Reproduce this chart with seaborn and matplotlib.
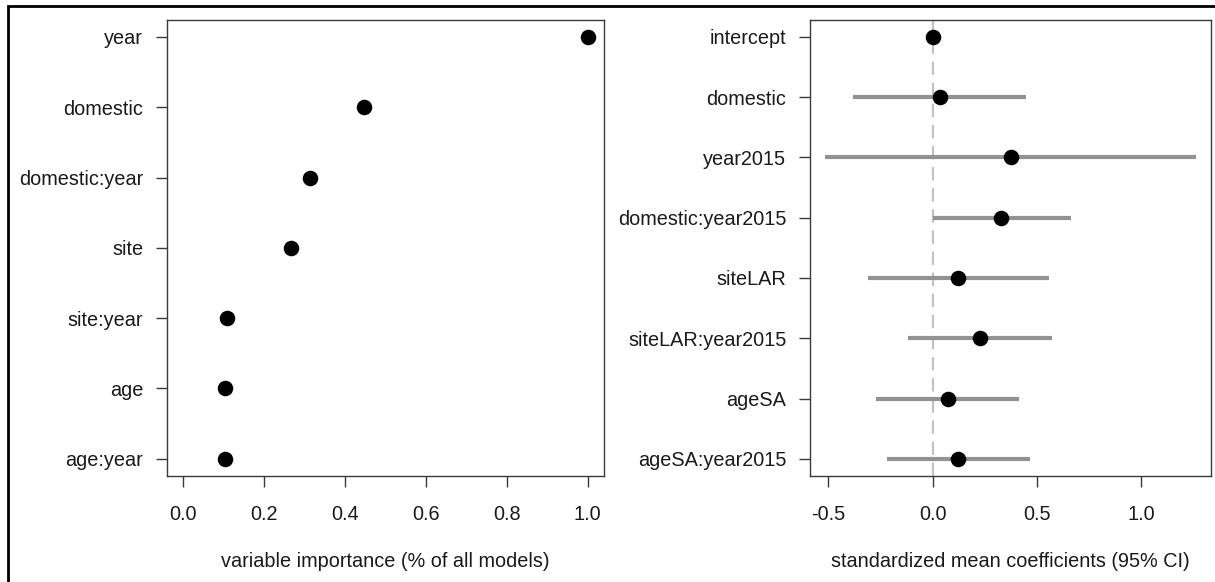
import numpy as np
import pandas as pd
import matplotlib.pyplot as plt
import seaborn as sns
from matplotlib.patches import Rectangle

# variable importance (left panel)
imp_vars = ["year", "domestic", "domestic:year", "site", "site:year", "age", "age:year"]
imp_vals = [1.0, 0.447, 0.315, 0.266, 0.110, 0.105, 0.104]

# standardized coefficients (right panel)
coef_vars = ["intercept", "domestic", "year2015", "domestic:year2015",
             "siteLAR", "siteLAR:year2015", "ageSA", "ageSA:year2015"]
coef_mean = [0.0, 0.035, 0.375, 0.328, 0.123, 0.226, 0.073, 0.124]
coef_low = [0.0, -0.381, -0.517, 0.002, -0.308, -0.118, -0.273, -0.217]
coef_high = [0.0, 0.448, 1.266, 0.662, 0.560, 0.571, 0.413, 0.466]

sns.set_style("ticks")
plt.rcParams['font.family'] = ['Liberation Sans', 'DejaVu Sans']
plt.rcParams['font.size'] = 14.3

spine_col = "#3a3a3a"
text_col = "#1a1a1a"

fig = plt.figure(figsize=(12.15, 5.82), dpi=100)
ax1 = fig.add_axes([166.7 / 1215, 1 - 475.7 / 582, 437.3 / 1215, 455.7 / 582])
ax2 = fig.add_axes([810 / 1215, 1 - 475.7 / 582, 401 / 1215, 455.7 / 582])

# left panel
df1 = pd.DataFrame({"var": imp_vars, "val": imp_vals})
df1["pos"] = np.arange(len(df1), 0, -1)
sns.scatterplot(data=df1, x="val", y="pos", color="black", s=125, linewidth=0, ax=ax1, zorder=3)
ax1.set_xlim(-0.04, 1.04)
ax1.set_ylim(0.76, 7.24)
ax1.set_xticks([0.0, 0.2, 0.4, 0.6, 0.8, 1.0])
ax1.set_xticklabels(["0.0", "0.2", "0.4", "0.6", "0.8", "1.0"])
ax1.set_yticks(df1["pos"])
ax1.set_yticklabels(df1["var"])
ax1.set_xlabel("variable importance (% of all models)")
ax1.set_ylabel("")

# right panel
df2 = pd.DataFrame({"var": coef_vars, "mean": coef_mean, "low": coef_low, "high": coef_high})
df2["pos"] = np.arange(len(df2), 0, -1)
ax2.axvline(0, color="#c2c2c2", lw=1.6, dashes=(6, 3.5), zorder=1)
ax2.hlines(df2["pos"], df2["low"], df2["high"], color="#929292", lw=3, zorder=2)
sns.scatterplot(data=df2, x="mean", y="pos", color="black", s=125, linewidth=0, ax=ax2, zorder=3)
ax2.set_xlim(-0.588, 1.336)
ax2.set_ylim(0.72, 8.28)
ax2.set_xticks([-0.5, 0.0, 0.5, 1.0])
ax2.set_xticklabels(["-0.5", "0.0", "0.5", "1.0"])
ax2.set_yticks(df2["pos"])
ax2.set_yticklabels(df2["var"])
ax2.set_xlabel("standardized mean coefficients (95% CI)")
ax2.set_ylabel("")

for ax in [ax1, ax2]:
    for sp in ax.spines.values():
        sp.set_visible(True)
        sp.set_color(spine_col)
        sp.set_linewidth(1.0)
    ax.tick_params(axis="both", length=8, width=1.0, color=spine_col, labelsize=14.3,
                   labelcolor=text_col)
    ax.tick_params(axis="x", pad=13)
    ax.tick_params(axis="y", pad=9)
    ax.xaxis.set_label_coords(0.5, -0.189)
    ax.xaxis.label.set_va("center")
    ax.xaxis.label.set_color(text_col)

# outer frame, cut at the right and bottom edges
fig.patches.append(Rectangle((8 / 1215, -0.1), 1.2, 1 - 6 / 582 + 0.1,
                             transform=fig.transFigure, fill=False,
                             edgecolor="black", linewidth=2.0))

plt.savefig("out.png", dpi=100)
